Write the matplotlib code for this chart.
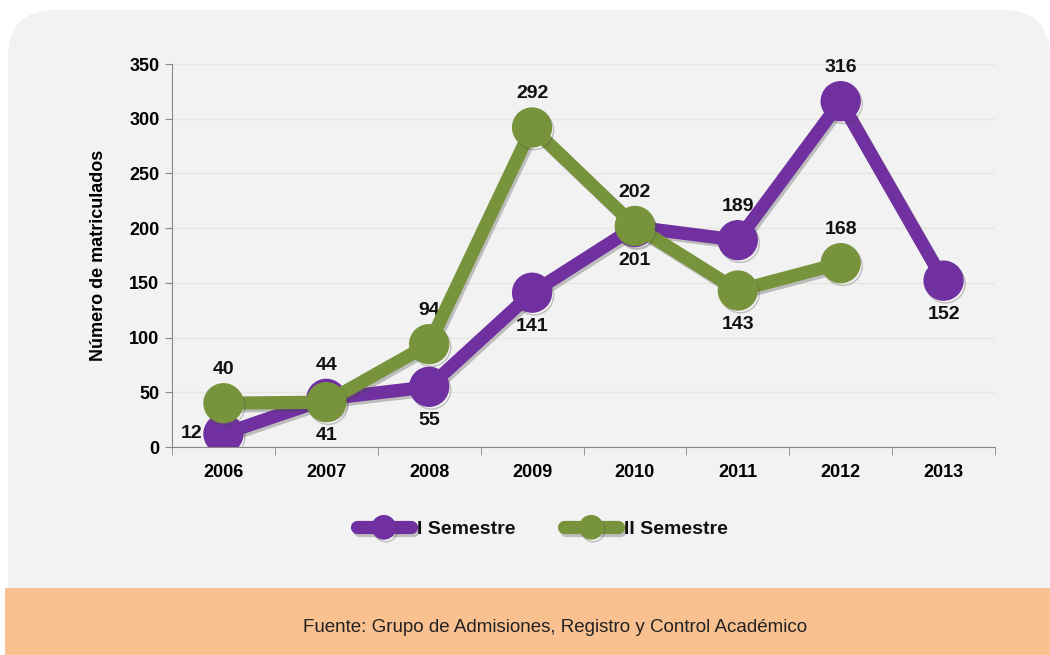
import numpy as np
import matplotlib
matplotlib.use("Agg")
import matplotlib.pyplot as plt
import matplotlib.patheffects as pe
from matplotlib.patches import FancyBboxPatch, Rectangle

# --- datos ---
years = ["2006", "2007", "2008", "2009", "2010", "2011", "2012", "2013"]
sem1 = [12, 44, 55, 141, 201, 189, 316, 152]
sem2 = [40, 41, 94, 292, 202, 143, 168, np.nan]
sem1_pos = ["left", "above", "below", "below", "below", "above", "above", "below"]
sem2_pos = ["above", "below", "above", "above", "above", "below", "above", None]

purple = "#7030a0"
green = "#77933c"
bg = "#f2f2f2"

plt.rcParams['font.family'] = ['Liberation Sans', 'DejaVu Sans']

fig = plt.figure(figsize=(10.5, 6.55), dpi=100, facecolor="white")

# panel gris con esquinas redondeadas (arriba) y banda naranja abajo
W, H = 1050, 655
panel = FancyBboxPatch((8 / W, 20 / H), 1042 / W, 625 / H,
                       boxstyle="round,pad=0,rounding_size=0.045",
                       transform=fig.transFigure, facecolor=bg, edgecolor="none",
                       mutation_aspect=W / H, zorder=-2)
fig.patches.append(panel)
band = Rectangle((5 / W, 0), 1045 / W, 67 / H, transform=fig.transFigure,
                 facecolor="#f9c090", edgecolor="none", zorder=-1)
fig.patches.append(band)
fig.text(555 / W, 1 - 628 / H, "Fuente: Grupo de Admisiones, Registro y Control Académico",
         ha="center", va="center", fontsize=13.5, color="#222222")

ax = fig.add_axes([172 / W, 1 - 447 / H, 823 / W, 383 / H])
ax.set_facecolor(bg)
x = np.arange(len(years))

shadow = [pe.SimpleLineShadow(offset=(1.5, -2), shadow_color="#444444", alpha=0.3), pe.Normal()]
ax.plot(x, sem1, "-o", color=purple, lw=9.5, ms=28, label="I Semestre",
        path_effects=shadow, zorder=3, solid_capstyle="round")
ax.plot(x, sem2, "-o", color=green, lw=9.5, ms=28, label="II Semestre",
        path_effects=shadow, zorder=4, solid_capstyle="round")

def label(vals, pos):
    for i, (v, p) in enumerate(zip(vals, pos)):
        if p is None or np.isnan(v):
            continue
        if p == "above":
            off, ha, va = (0, 18), "center", "bottom"
        elif p == "below":
            off, ha, va = (0, -18), "center", "top"
        else:
            off, ha, va = (-15, 0), "right", "center"
        ax.annotate(str(int(v)), (i, v), xytext=off, textcoords="offset points",
                    ha=ha, va=va, fontsize=14, fontweight="bold", color="#111111")

label(sem1, sem1_pos)
label(sem2, sem2_pos)

ax.set_xlim(-0.5, len(years) - 0.5)
ax.set_ylim(0, 350)
ax.set_yticks(range(0, 351, 50))
ax.set_xticks(x)
ax.set_xticklabels(years)
ax.set_xticks(np.arange(-0.5, len(years), 1), minor=True)
ax.tick_params(axis="x", which="major", length=0, pad=12)
ax.tick_params(axis="x", which="minor", length=6, color="#888888")
ax.tick_params(axis="y", length=5, color="#888888", pad=4)
for lab in ax.get_xticklabels() + ax.get_yticklabels():
    lab.set_fontsize(13)
    lab.set_fontweight("bold")
ax.grid(axis="y", color="#e6e6dc", lw=1)
ax.set_axisbelow(True)
for s in ["top", "right"]:
    ax.spines[s].set_visible(False)
for s in ["left", "bottom"]:
    ax.spines[s].set_color("#888888")
ax.set_ylabel("Número de matriculados", fontsize=13, fontweight="bold", labelpad=16)

leg = ax.legend(loc="center", bbox_to_anchor=(0.45, -0.215), ncol=2, frameon=False,
                handlelength=2.8, markerscale=0.6, columnspacing=2.5,
                handletextpad=0.3, prop={"weight": "bold", "size": 14})
for t in leg.get_texts():
    t.set_color("#111111")

fig.savefig("out.png", dpi=100, facecolor="white")
